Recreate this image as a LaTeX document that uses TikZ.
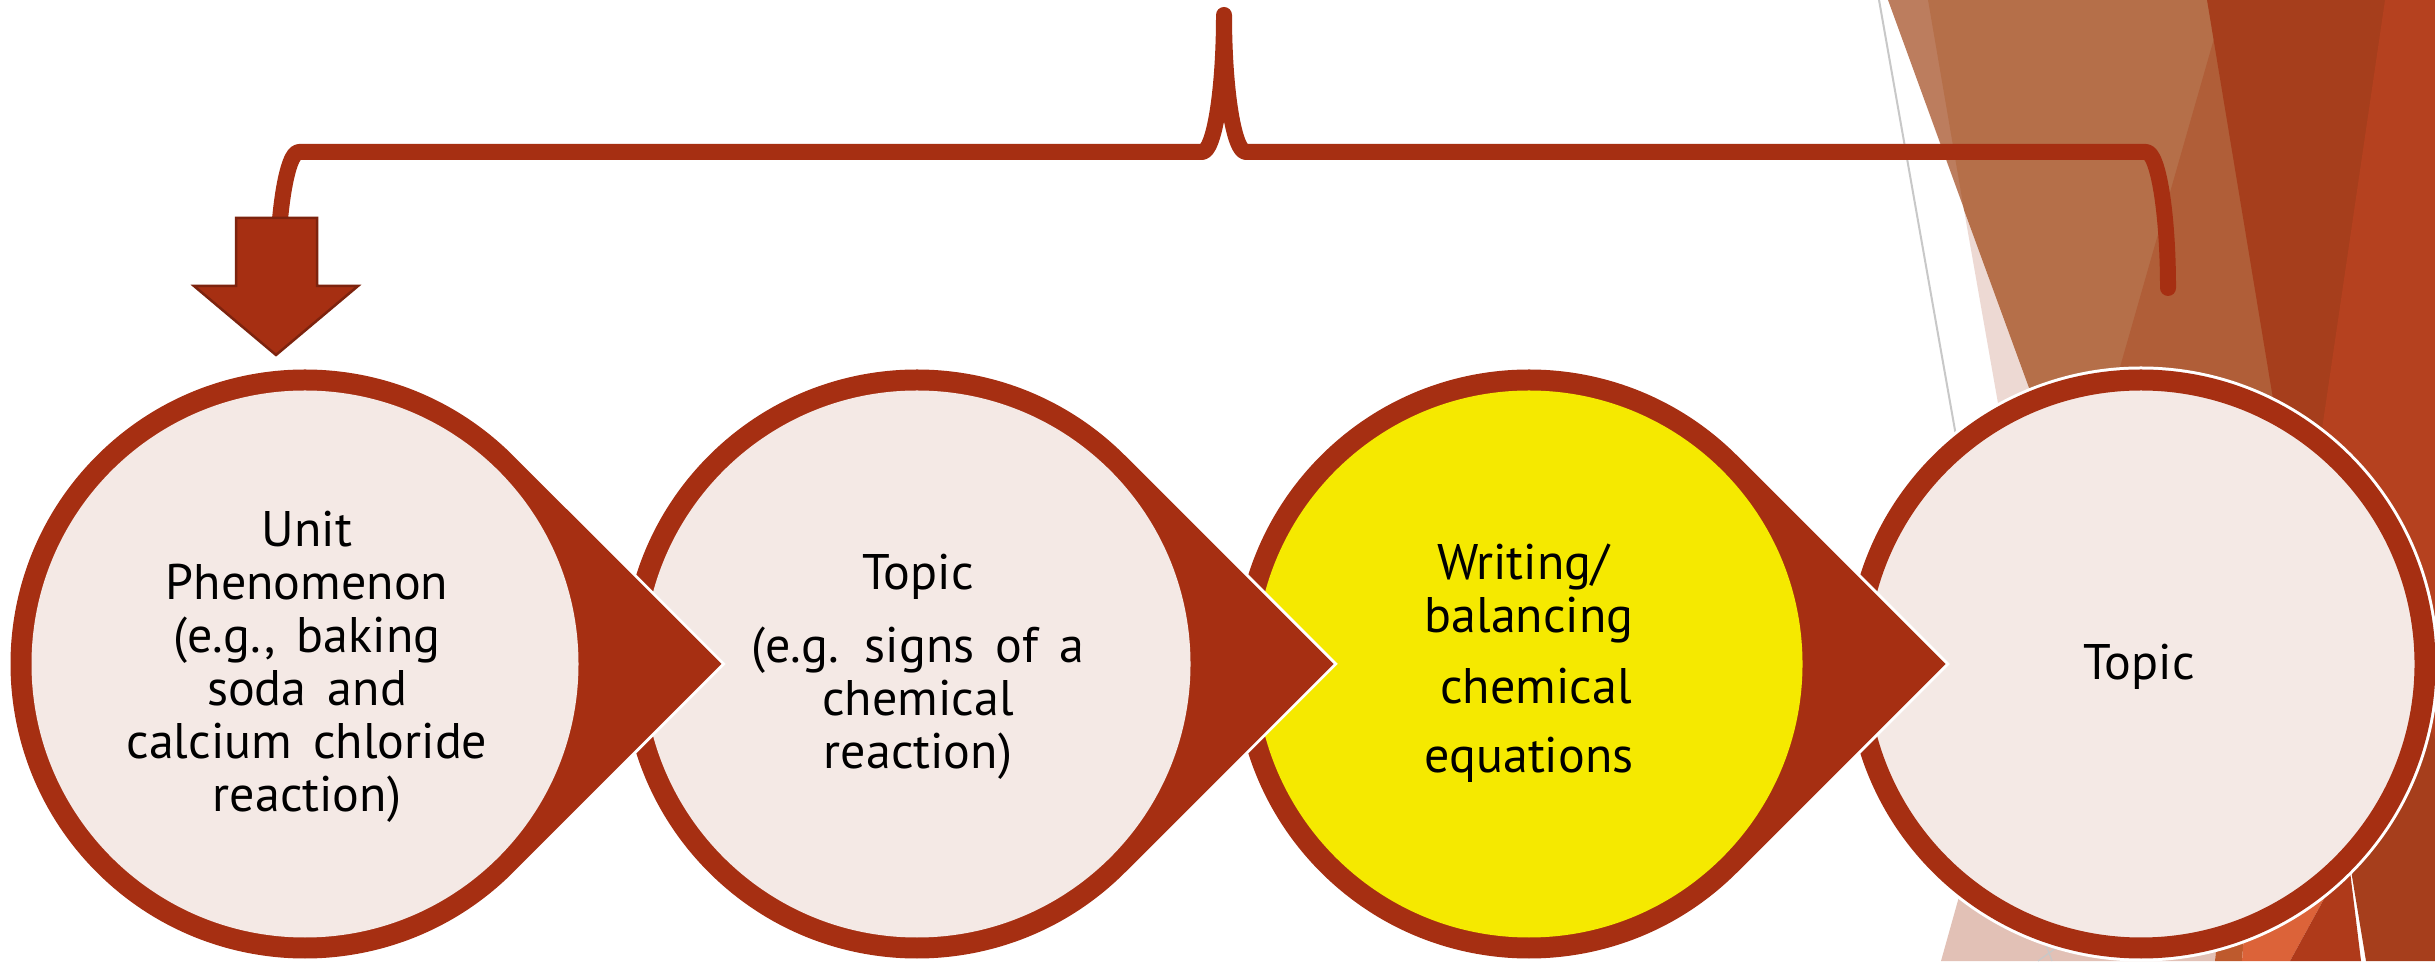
\documentclass[tikz,border=0pt]{standalone}
\usepackage{fontspec}
\setmainfont{PT Sans}[WordSpace=1.6]
\usetikzlibrary{calc}
\definecolor{ringred}{RGB}{166,47,18}
\definecolor{pinkfill}{RGB}{244,233,229}
\definecolor{yel}{RGB}{245,233,0}
\definecolor{arrowedge}{RGB}{125,35,14}
\definecolor{bgltbrown}{RGB}{188,125,94}
\definecolor{bgpink}{RGB}{237,217,211}
\definecolor{bgbrown}{RGB}{181,111,73}
\definecolor{bgmed}{RGB}{176,94,56}
\definecolor{bgdark}{RGB}{166,62,28}
\definecolor{bgbright}{RGB}{181,65,31}
\definecolor{bgorange}{RGB}{220,99,57}
\definecolor{bgred}{RGB}{175,58,26}
\definecolor{bgstrip}{RGB}{190,90,45}
\definecolor{bgpink2}{RGB}{226,193,182}
\definecolor{bggray}{RGB}{200,200,200}
\tikzset{
  tear/.style={insert path={([shift={(45:284)}]#1) arc[start angle=45,end angle=315,radius=284] -- ([shift={(401.64,0)}]#1) -- cycle}},
  txt/.style={inner sep=0pt, anchor=base, text=black, font=\fontsize{50}{53}\selectfont},
  bracestyle/.style={draw=ringred, line width=16pt, line cap=round, line join=round},
  arrowstyle/.style={fill=ringred, draw=arrowedge, line width=2.5pt, line join=miter},
}
\begin{document}
\begin{tikzpicture}[x=1pt,y=1pt]
\useasboundingbox (0,0) rectangle (2435,961);
\fill[white] (0,0) rectangle (2435,961);
% background facets
\fill[bgltbrown] (1888,961) -- (2070,461) -- (2300,461) -- (2300,961) -- cycle;
\fill[bgpink] (1964,751) -- (2015,461) -- (2070,461) -- cycle;
\fill[bgbrown] (1928,961) -- (1964,751) -- (2070,461) -- (2300,461) -- (2300,961) -- cycle;
\fill[bgmed] (2225,961) -- (2082,461) -- (2300,461) -- (2300,961) -- cycle;
\fill[bgdark] (2207,961) -- (2366,0) -- (2435,0) -- (2435,961) -- cycle;
\fill[bgbright] (2385,961) -- (2435,961) -- (2435,221) -- (2330,491) -- (2322,532) -- cycle;
\fill[bgpink2] (1941,0) -- (2215,0) -- (2225,106) -- (1983,150) -- cycle;
\fill[bgstrip] (2215,0) -- (2242,0) -- (2250,106) -- (2225,106) -- cycle;
\fill[bgorange] (2242,0) -- (2290,0) -- (2348,106) -- (2250,106) -- cycle;
\fill[bgred] (2290,0) -- (2348,106) -- (2361,0) -- cycle;
\draw[bggray, line width=2pt] (1879,961) -- (1962,491);
\draw[bggray, line width=1.2pt] (2038,0) -- (2060,16) (2046,16) -- (2052,0);
% centres
\coordinate (c1) at (305,297);
\coordinate (c2) at (917,297);
\coordinate (c3) at (1529,297);
\coordinate (c4) at (2141,297);
% brace
\draw[bracestyle] (2168,673) arc[start angle=0,end angle=90,x radius=22,y radius=136]
  -- (1246,809) arc[start angle=270,end angle=180,x radius=22,y radius=137]
  arc[start angle=0,end angle=-90,x radius=22,y radius=137]
  -- (299,809) arc[start angle=90,end angle=180,x radius=22,y radius=136];
% arrow
\draw[arrowstyle] (236,743) -- (317,743) -- (317,675) -- (358,675) -- (276,606) -- (194,675) -- (236,675) -- cycle;
% last circle (no point)
\draw[white, line width=27pt] (c4) circle[radius=284];
\draw[ringred, fill=pinkfill, line width=21pt] (c4) circle[radius=284];
% teardrops, right to left
\foreach \c/\f in {c3/yel, c2/pinkfill, c1/pinkfill}{
  \path[draw=white, line width=27pt, tear=\c];
  \path[fill=ringred, draw=ringred, line width=21pt, tear=\c];
  \fill[\f] (\c) circle[radius=273.5];
}
% texts
\node[txt] (t1) at (307,414) {\begin{tabular}[t]{@{}c@{}}Unit\\Phenomenon\\(e.g., baking\\soda and\\calcium chloride\\reaction)\end{tabular}};
\node[txt] (t2) at (918,371) {\begin{tabular}[t]{@{}c@{}}Topic\\[20pt](e.g. signs of a\\chemical\\reaction)\end{tabular}};
\node[txt] (t3) at (1529,381) {\begin{tabular}[t]{@{}c@{}}Writing/\hspace*{12pt}\\balancing\\[18pt]\hspace*{14pt}chemical\\[16pt]equations\end{tabular}};
\node[txt] (t4) at (2139,281) {Topic};
\end{tikzpicture}
\end{document}
